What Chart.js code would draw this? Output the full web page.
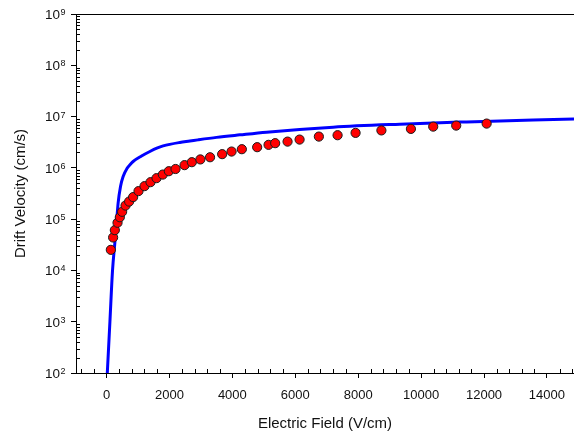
<!DOCTYPE html>
<html>
<head>
<meta charset="utf-8">
<script src="https://cdn.jsdelivr.net/npm/chart.js@4.4.0/dist/chart.umd.min.js"></script>
<style>
  html, body { margin: 0; padding: 0; background: #fff; overflow: hidden; }
  canvas { display: block; }
</style>
</head>
<body>
<canvas id="driftChart" width="574" height="435"></canvas>
<script>
// measured drift velocity (red dots)
const measuredField = [137, 210, 264, 350, 423, 496, 604, 719, 846, 1017, 1208, 1399, 1590, 1790, 1981, 2194,
  2480, 2712, 2983, 3291, 3676, 3975, 4302, 4789, 5151, 5361, 5755, 6137, 6750, 7345, 7917, 8738, 9676,
  10385, 11116, 12083];
const measuredVelocity = [2.52e4, 4.39e4, 6.1e4, 8.5e4, 1.09e5, 1.39e5, 1.84e5, 2.2e5, 2.69e5, 3.52e5, 4.4e5,
  5.26e5, 6.3e5, 7.4e5, 8.6e5, 9.5e5, 1.13e6, 1.29e6, 1.46e6, 1.61e6, 1.85e6, 2.08e6, 2.31e6, 2.53e6, 2.81e6,
  3.03e6, 3.25e6, 3.56e6, 4.07e6, 4.33e6, 4.81e6, 5.37e6, 5.75e6, 6.37e6, 6.67e6, 7.3e6];

// model curve (blue line)
const modelField = [25, 108, 191, 264, 318, 369, 445, 528, 655, 741, 846, 1113, 1393, 1599, 1800, 2331,
  2649, 2903, 3498, 4238, 5087, 7205, 9326, 11447, 13564, 15000];
const modelVelocity = [1.0e2, 1.0e3, 1.0e4, 3.41e4, 8.36e4, 2.05e5, 4.33e5, 6.76e5, 9.86e5, 1.14e6, 1.33e6,
  1.70e6, 2.11e6, 2.42e6, 2.68e6, 3.13e6, 3.33e6, 3.51e6, 3.93e6, 4.40e6, 4.97e6, 6.21e6, 7.10e6, 7.87e6,
  8.61e6, 9.05e6];

// tick labels
const fieldTicks = [0, 2000, 4000, 6000, 8000, 10000, 12000, 14000];
const velocityTicks = [1e2, 1e3, 1e4, 1e5, 1e6, 1e7, 1e8, 1e9];

const FONT = "'Liberation Sans', Arial, sans-serif";

// minor ticks point inwards, plus the top frame line and the 10^n labels
const frameAndMinorTicks = {
  id: "frameAndMinorTicks",
  afterDraw(chart) {
    const { ctx, chartArea } = chart;
    const xs = chart.scales.x;
    const ys = chart.scales.y;
    ctx.save();
    ctx.strokeStyle = "#000";
    ctx.lineWidth = 1;
    ctx.beginPath();
    // top line
    ctx.moveTo(chartArea.left, Math.round(chartArea.top) + 0.5);
    ctx.lineTo(chartArea.right, Math.round(chartArea.top) + 0.5);
    // x minor ticks
    for (let v = -800; v <= xs.max; v += 400) {
      if (v % 2000 === 0) continue;
      const px = Math.round(xs.getPixelForValue(v)) + 0.5;
      ctx.moveTo(px, chartArea.bottom);
      ctx.lineTo(px, chartArea.bottom - 4);
    }
    // y minor ticks
    for (let e = 2; e < 9; e++) {
      for (let m = 2; m <= 9; m++) {
        const py = Math.round(ys.getPixelForValue(m * Math.pow(10, e))) + 0.5;
        ctx.moveTo(chartArea.left, py);
        ctx.lineTo(chartArea.left + 4, py);
      }
    }
    ctx.stroke();

    // y labels: "10" with a raised exponent
    ctx.fillStyle = "#111";
    ctx.textBaseline = "alphabetic";
    ctx.textAlign = "right";
    velocityTicks.forEach(v => {
      const py = ys.getPixelForValue(v);
      const exp = String(Math.round(Math.log10(v)));
      const right = chartArea.left - 10.5;
      ctx.font = "9px " + FONT;
      const ew = ctx.measureText(exp).width;
      ctx.fillText(exp, right, py + 1);
      ctx.font = "13.5px " + FONT;
      ctx.fillText("10", right - ew - 0.5, py + 4.8);
    });
    ctx.restore();
  }
};

const ctx = document.getElementById("driftChart").getContext("2d");

const data = {
  datasets: [
    {
      label: "Measured",
      data: measuredField.map((x, i) => ({ x: x, y: measuredVelocity[i] })),
      backgroundColor: "#ff0000",
      borderColor: "#1a1a1a",
      borderWidth: 1,
      pointRadius: 4.6,
      showLine: false,
      order: 0
    },
    {
      label: "Model",
      data: modelField.map((x, i) => ({ x: x, y: modelVelocity[i] })),
      borderColor: "#0000ff",
      borderWidth: 3,
      pointRadius: 0,
      showLine: true,
      cubicInterpolationMode: "monotone",
      order: 1
    }
  ]
};

const config = {
  type: "scatter",
  data: data,
  options: {
    responsive: false,
    animation: false,
    devicePixelRatio: 1,
    layout: { autoPadding: false, padding: { top: 14, right: 0, bottom: 0, left: 0 } },
    plugins: {
      legend: { display: false },
      tooltip: { enabled: false }
    },
    scales: {
      x: {
        type: "linear",
        min: -970,
        max: 14860,
        afterFit: s => { s.height = 62; s.paddingLeft = 0; s.paddingRight = 0; },
        afterBuildTicks: s => { s.ticks = fieldTicks.map(v => ({ value: v })); },
        border: { display: true, color: "#000", width: 1 },
        grid: { display: true, drawOnChartArea: false, drawTicks: true, tickLength: 5, color: "#000" },
        ticks: {
          color: "#111",
          padding: 10,
          maxRotation: 0,
          font: { family: FONT, size: 13 },
          callback: v => String(v)
        },
        title: {
          display: true,
          text: "Electric Field (V/cm)",
          color: "#111",
          font: { family: FONT, size: 15 },
          padding: { top: 0, bottom: 2 }
        }
      },
      y: {
        type: "logarithmic",
        min: 1e2,
        max: 1e9,
        afterFit: s => { s.width = 76; s.paddingTop = 0; s.paddingBottom = 0; },
        afterBuildTicks: s => { s.ticks = velocityTicks.map(v => ({ value: v })); },
        border: { display: true, color: "#000", width: 1 },
        grid: { display: true, drawOnChartArea: false, drawTicks: true, tickLength: 5, color: "#000" },
        ticks: { display: false },
        title: {
          display: true,
          text: "Drift Velocity (cm/s)",
          color: "#111",
          font: { family: FONT, size: 15 },
          padding: { top: 12, bottom: 0 }
        }
      }
    }
  },
  plugins: [frameAndMinorTicks]
};

const driftChart = new Chart(ctx, config);
</script>
</body>
</html>
